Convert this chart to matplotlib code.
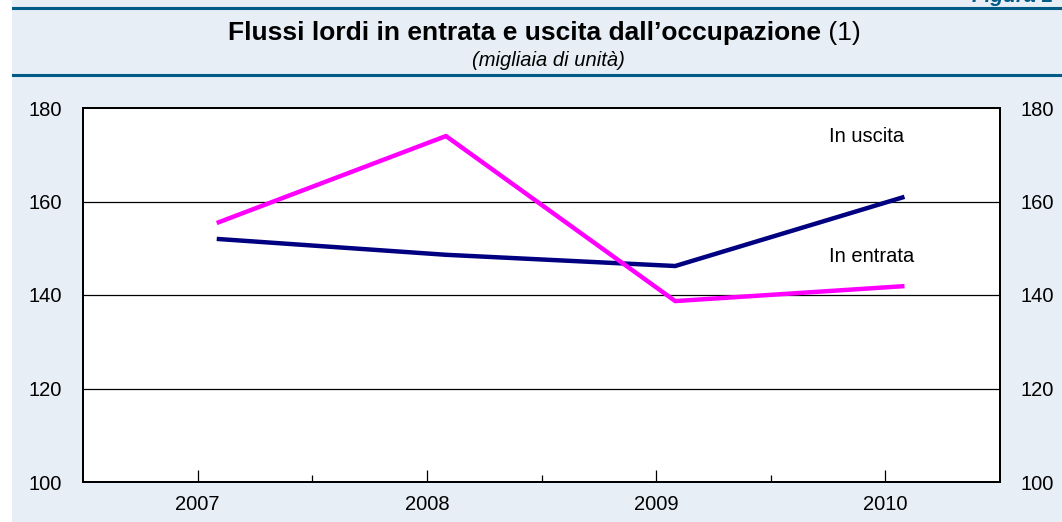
import matplotlib.pyplot as plt
from matplotlib.lines import Line2D
from matplotlib.patches import Rectangle

# ===== data =====
YEARS = [2007, 2008, 2009, 2010]
IN_USCITA = [155.4, 174.0, 138.7, 141.9]   # magenta
IN_ENTRATA = [152.0, 148.6, 146.2, 161.0]  # navy
Y_TICKS = [100, 120, 140, 160, 180]
X_LABELS = ["2007", "2008", "2009", "2010"]

TITLE = "Flussi lordi in entrata e uscita dall\u2019occupazione"
TITLE_NOTE = " (1)"
SUBTITLE = "(migliaia di unit\u00e0)"

BG = "#E7EEF5"
RULE = "#005B87"
NAVY = "#000080"
MAGENTA = "#FF00FF"

W, H = 1062, 522
plt.rcParams["font.family"] = ["Liberation Sans", "DejaVu Sans"]

fig = plt.figure(figsize=(W / 100, H / 100), dpi=100)
fig.patch.set_facecolor("white")

# light blue panel (white strip on the left)
fig.patches.append(Rectangle((12 / W, 0), 1, 1, transform=fig.transFigure,
                             facecolor=BG, edgecolor="none", zorder=-5))
for ypx in (8, 75):
    fig.lines.append(Line2D([13 / W, 1], [1 - ypx / H, 1 - ypx / H],
                            transform=fig.transFigure, color=RULE, lw=2.2,
                            zorder=-4))

# "Figura" label cut off at the top edge
fig.text(972 / W, 1 + 4 / H, "Figura 1", ha="left", va="center", fontsize=15,
         fontweight="bold", style="italic", color=RULE)

# title: bold part + normal note, centred together
t1 = fig.text(0, 1 - 33 / H, TITLE, fontsize=19, fontweight="bold",
              ha="left", va="center")
t2 = fig.text(0, 1 - 33 / H, TITLE_NOTE, fontsize=19, ha="left", va="center")
r = fig.canvas.get_renderer()
w1 = t1.get_window_extent(r).width
w2 = t2.get_window_extent(r).width
x0 = (544 - (w1 + w2) / 2) / W
t1.set_x(x0)
t2.set_x(x0 + w1 / W)
fig.text(548 / W, 1 - 61 / H, SUBTITLE, fontsize=14.5, style="italic",
         ha="center", va="center")

ax = fig.add_axes([83 / W, 1 - 482 / H, (1000 - 83) / W, (482 - 108) / H])
ax.set_facecolor("white")

offset = 1 / 12
xs = [y + offset for y in YEARS]
ax.plot(xs, IN_ENTRATA, color=NAVY, lw=3.2, solid_capstyle="butt", zorder=3)
ax.plot(xs, IN_USCITA, color=MAGENTA, lw=3.2, solid_capstyle="butt", zorder=4)

ax.set_xlim(YEARS[0] - 0.5, YEARS[-1] + 0.5)
ax.set_ylim(Y_TICKS[0], Y_TICKS[-1])
ax.set_yticks(Y_TICKS)
for yv in Y_TICKS[1:-1]:
    ax.axhline(yv, color="black", lw=0.9, zorder=1)

ax.set_xticks(YEARS)
ax.set_xticklabels(X_LABELS)
ax.set_xticks([y + 0.5 for y in YEARS[:-1]], minor=True)
ax.tick_params(axis="x", which="major", direction="in", length=9, width=0.9,
               labelsize=14.5, pad=9)
ax.tick_params(axis="x", which="minor", direction="in", length=5, width=0.9)
ax.tick_params(axis="y", length=0, labelsize=14.5, pad=15)

ax2 = ax.twinx()
ax2.set_ylim(ax.get_ylim())
ax2.set_yticks(Y_TICKS)
ax2.tick_params(axis="y", length=0, labelsize=14.5, pad=15)

for a in (ax, ax2):
    for s in a.spines.values():
        s.set_linewidth(1.4)
        s.set_color("black")

ax.text(2009.754, 173.8, "In uscita", fontsize=14.5, va="center", ha="left")
ax.text(2009.754, 148.3, "In entrata", fontsize=14.5, va="center", ha="left")

fig.savefig("out.png", dpi=100)
